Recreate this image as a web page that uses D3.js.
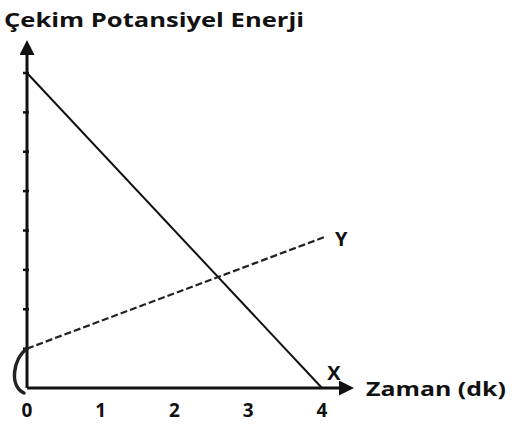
<!DOCTYPE html>
<html>
<head>
<meta charset="utf-8">
<script src="https://cdn.jsdelivr.net/npm/d3@7"></script>
<style>
  html, body { margin: 0; padding: 0; background: #fff; }
  svg { display: block; }
  text { font-family: "Open Sans", "Noto Sans", sans-serif; font-weight: 700; fill: #111; }
</style>
</head>
<body>
<script>
// Time (minutes) tick labels and energy ticks
const timeTicks = [0, 1, 2, 3, 4];
const energyTicks = [1, 2, 3, 4, 5, 6, 7, 8];

// Gravitational potential energy of two bodies over time
const seriesX = [{ t: 0, e: 8 }, { t: 4, e: 0 }];
const seriesY = [{ t: 0, e: 1 }, { t: 4.03, e: 3.83 }];

const W = 518, H = 428;
const svg = d3.select("body").append("svg").attr("width", W).attr("height", H);

const x = d3.scaleLinear().domain([0, 4]).range([27, 322]);
const y = d3.scaleLinear().domain([0, 8]).range([388, 73]);

const ink = "#111";

// arrowheads
const defs = svg.append("defs");
defs.append("marker").attr("id", "arr")
  .attr("viewBox", "0 0 10 10").attr("refX", 2).attr("refY", 5)
  .attr("markerWidth", 5).attr("markerHeight", 5).attr("orient", "auto")
  .attr("markerUnits", "strokeWidth")
  .append("path").attr("d", "M0,0 L10,5 L0,10 Z").attr("fill", ink);

// axes
svg.append("line")
  .attr("x1", x(0)).attr("y1", y(0)).attr("x2", x(0)).attr("y2", 52)
  .attr("stroke", ink).attr("stroke-width", 3).attr("marker-end", "url(#arr)");
svg.append("line")
  .attr("x1", x(0)).attr("y1", y(0)).attr("x2", 342).attr("y2", y(0))
  .attr("stroke", ink).attr("stroke-width", 3).attr("marker-end", "url(#arr)");

// small ticks on the energy axis
svg.append("g").selectAll("line").data(energyTicks).join("line")
  .attr("x1", x(0) - 4).attr("x2", x(0) + 2)
  .attr("y1", d => y(d)).attr("y2", d => y(d))
  .attr("stroke", ink).attr("stroke-width", 2.5);

// time tick labels
svg.append("g").selectAll("text").data(timeTicks).join("text")
  .attr("x", d => x(d)).attr("y", 417)
  .attr("text-anchor", "middle").attr("font-size", 19)
  .text(d => d);

// axis titles
svg.append("text").attr("x", 4).attr("y", 27).attr("font-size", 20)
  .attr("textLength", 300).attr("lengthAdjust", "spacingAndGlyphs")
  .text("Çekim Potansiyel Enerji");
svg.append("text").attr("x", 366).attr("y", 396).attr("font-size", 20)
  .attr("textLength", 140).attr("lengthAdjust", "spacingAndGlyphs")
  .text("Zaman (dk)");

const line = d3.line().x(d => x(d.t)).y(d => y(d.e));

// X: solid line
svg.append("path").datum(seriesX).attr("d", line)
  .attr("fill", "none").attr("stroke", ink).attr("stroke-width", 2);
// Y: dashed line
svg.append("path").datum(seriesY).attr("d", line)
  .attr("fill", "none").attr("stroke", "#222").attr("stroke-width", 2.2)
  .attr("stroke-dasharray", "7,3");

// series labels
svg.append("text").attr("x", x(4) + 12).attr("y", 380).attr("text-anchor", "middle")
  .attr("font-size", 20).text("X");
svg.append("text").attr("x", x(4.03) + 17).attr("y", 246).attr("text-anchor", "middle")
  .attr("font-size", 20).text("Y");

// bracket marking the initial energy of Y
const e0 = seriesY[0].e;
svg.append("path")
  .attr("d", `M${x(0)},${y(e0)} C${x(0) - 14},${y(e0) + 10} ${x(0) - 18},${y(0) - 2} ${x(0) - 3},${y(0) + 5}`)
  .attr("fill", "none").attr("stroke", "#222").attr("stroke-width", 3.5)
  .attr("stroke-linecap", "round");
</script>
</body>
</html>
